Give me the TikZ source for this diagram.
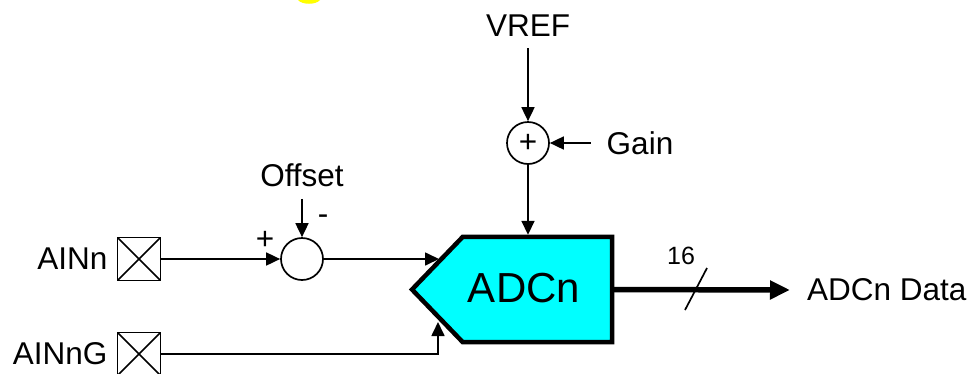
\documentclass[tikz,border=0pt]{standalone}
\usepackage{fontspec}
\setmainfont{Liberation Sans}
\usetikzlibrary{arrows.meta,positioning,backgrounds}
\definecolor{adccyan}{RGB}{0,255,255}
\definecolor{markyellow}{RGB}{255,255,0}

\begin{document}
\begin{tikzpicture}[x=1pt,y=-1pt, >={Triangle[length=14pt,width=13pt]},
    thin line/.style={line width=1.7pt},
    every node/.style={font=\fontsize{31.5}{36}\selectfont,inner sep=0pt},
    pin/.style={draw,thin line,minimum size=43pt,path picture={
        \draw[thin line] (path picture bounding box.north west) -- (path picture bounding box.south east)
                         (path picture bounding box.south west) -- (path picture bounding box.north east);}},
    sum/.style={draw,circle,thin line,minimum size=42pt},
    adc body/.style={minimum width=149pt,minimum height=105pt}]
        \useasboundingbox (0,0) rectangle (972,373);
        \fill[markyellow] (298,0) -- (320,0) .. controls (316,5) and (302,5) .. (298,0) -- cycle;

        \node[pin]              (pin_n)   at (139,259)         {};
        \node                   (ain_n)   [left=9pt of pin_n]  {AINn};
        \node[pin]              (pin_g)   at (139,354)         {};
        \node                   (ain_g)   [left=9pt of pin_g]  {AINnG};
        \node[sum]              (sum_o)   at (302,259)         {};
        \node                   (offset)  at (302,175)         {Offset};
        \node                   (plus_o)  at (265,240)         {+};
        \node                   (minus_o) at (323,220)         {-};
        \node[sum]              (sum_g)   at (528,143)         {+};
        \node                   (vref)    at (528,26)          {VREF};
        \node                   (gain)    at (640,143)         {Gain};
        \node[adc body]         (adc)     at (537.5,289.5)     {};
        \node[font=\fontsize{42}{48}\selectfont] (adc_label) at (524,288) {ADCn};
        \node                   (bus_w)   at (681,256)         [font=\fontsize{25}{30}\selectfont] {16};
        \node[anchor=west]      (data)    at (807,290)         {ADCn Data};
        \coordinate (in_o) at (439,259);
        \coordinate (in_g) at (438,322);
        \coordinate (out)  at (790,290);
        \coordinate (bus)  at (696,289);

        \begin{pgfonlayer}{background}
            \draw[line width=4.5pt,fill=adccyan,line join=miter] (adc.north west) -- (adc.north east)
                -- (adc.south east) -- (adc.south west) -- (412,289.5) -- cycle;
        \end{pgfonlayer}

        \path[->,thin line] (pin_n) edge (sum_o)
                    (offset) edge[shorten <=12pt] (sum_o)
                    (sum_o) edge (in_o)
                    (vref) edge[shorten <=11pt] (sum_g)
                    (gain) edge[shorten <=16pt] (sum_g)
                    (sum_g) edge[shorten >=2pt] (sum_g |- adc.north);
        \draw[->,thin line] (pin_g) -| (in_g);
        \draw[line width=5.5pt,-{Triangle[length=20pt,width=18pt]}] (adc.east) -- (out);
        \draw[thin line] ([shift={(-11,21)}]bus) -- ([shift={(11,-21)}]bus);
\end{tikzpicture}
\end{document}
